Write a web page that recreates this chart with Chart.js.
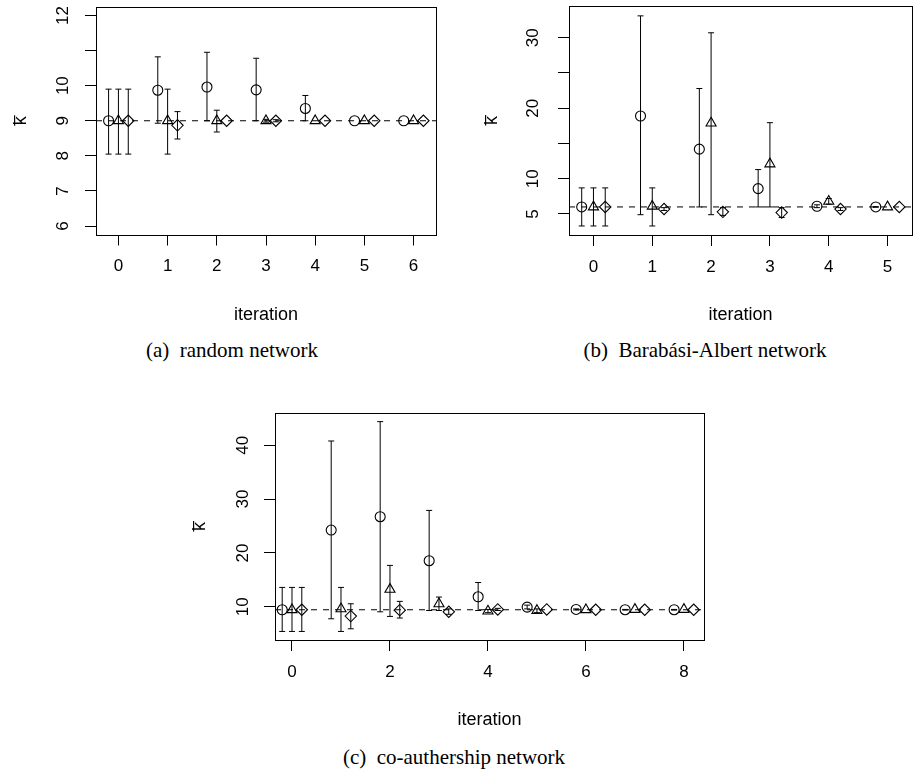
<!DOCTYPE html>
<html>
<head>
<meta charset="utf-8">
<script src="https://cdn.jsdelivr.net/npm/chart.js@4.4.0/dist/chart.umd.min.js"></script>
<style>
  html, body { margin: 0; padding: 0; background: #fff; }
  #page { position: relative; width: 923px; height: 774px; background: #fff; overflow: hidden; }
  canvas { position: absolute; }
  .caption {
    position: absolute;
    font-family: "Liberation Serif", "DejaVu Serif", serif;
    font-size: 21px;
    color: #000;
    white-space: pre;
    transform: translate(-50%, -50%);
  }
</style>
</head>
<body>
<div id="page">
  <canvas id="chart-a" width="460" height="330" style="left:0;top:0"></canvas>
  <canvas id="chart-b" width="463" height="330" style="left:460px;top:0"></canvas>
  <canvas id="chart-c" width="560" height="340" style="left:180px;top:400px"></canvas>
  <div class="caption" style="left:232px;top:350px">(a)  random network</div>
  <div class="caption" style="left:705px;top:350px">(b)  Barabási-Albert network</div>
  <div class="caption" style="left:454px;top:757px">(c)  co-authership network</div>
</div>
<script>
// ---- (a) random network ----
const iterA = [0, 1, 2, 3, 4, 5, 6];
const refA = 9;
const circA   = [9.0, 9.87, 9.96, 9.88, 9.35, 9.0, 9.0];
const circALo = [8.05, 8.93, 9.0, 9.0, 9.0, null, null];
const circAHi = [9.9, 10.82, 10.95, 10.78, 9.72, null, null];
const triA    = [9.0, 9.0, 9.0, 9.0, 9.0, 9.0, 9.0];
const triALo  = [8.05, 8.05, 8.68, 8.96, null, null, null];
const triAHi  = [9.9, 9.9, 9.3, 9.04, null, null, null];
const diaA    = [9.0, 8.87, 9.0, 9.0, 9.0, 9.0, 9.0];
const diaALo  = [8.05, 8.48, null, 8.97, null, null, null];
const diaAHi  = [9.9, 9.26, null, 9.03, null, null, null];
const xTicksA = [0, 1, 2, 3, 4, 5, 6];
const yTicksA = [6, 7, 8, 9, 10, 11, 12];
const yLabelsA = ['6', '7', '8', '9', '10', '', '12'];

// ---- (b) Barabasi-Albert network ----
const iterB = [0, 1, 2, 3, 4, 5];
const refB = 6;
const circB   = [6.0, 18.9, 14.2, 8.6, 6.1, 6.0];
const circBLo = [3.3, 4.9, 6.0, 6.0, 5.9, 5.95];
const circBHi = [8.7, 33.1, 22.8, 11.3, 6.3, 6.05];
const triB    = [6.0, 6.1, 17.9, 12.1, 6.8, 6.0];
const triBLo  = [3.3, 3.3, 4.9, 6.0, 6.4, null];
const triBHi  = [8.7, 8.7, 30.7, 17.95, 7.2, null];
const diaB    = [6.0, 5.7, 5.3, 5.2, 5.7, 6.0];
const diaBLo  = [3.3, 5.5, 4.8, 4.5, 5.5, null];
const diaBHi  = [8.7, 5.9, 5.9, 5.9, 5.9, null];
const xTicksB = [0, 1, 2, 3, 4, 5];
const yTicksB = [5, 10, 15, 20, 25, 30];
const yLabelsB = ['5', '10', '', '20', '', '30'];

// ---- (c) co-authorship network ----
const iterC = [0, 1, 2, 3, 4, 5, 6, 7, 8];
const refC = 9.44;
const circC   = [9.44, 24.25, 26.73, 18.55, 11.85, 9.93, 9.5, 9.45, 9.45];
const circCLo = [5.41, 7.76, 9.06, 9.3, 9.3, 9.6, 9.4, 9.4, 9.4];
const circCHi = [13.59, 40.8, 44.4, 27.9, 14.5, 10.3, 9.6, 9.5, 9.5];
const triC    = [9.44, 9.6, 13.22, 10.55, 9.2, 9.3, 9.44, 9.5, 9.5];
const triCLo  = [5.41, 5.41, 8.2, 9.3, 8.9, 8.9, null, null, null];
const triCHi  = [13.59, 13.59, 17.68, 11.8, 9.5, 9.6, null, null, null];
const diaC    = [9.44, 8.26, 9.37, 9.06, 9.5, 9.5, 9.44, 9.44, 9.44];
const diaCLo  = [5.41, 5.9, 7.9, 8.6, 9.3, null, null, null, null];
const diaCHi  = [13.59, 10.55, 11.0, 9.6, 9.7, null, null, null, null];
const xTicksC = [0, 2, 4, 6, 8];
const yTicksC = [10, 20, 30, 40];
const yLabelsC = ['10', '20', '30', '40'];

const SANS = '"Liberation Sans", Arial, sans-serif';
const DODGE = 0.2;

function markers(iters, vals, shift, style, radius) {
    return {
        type: 'scatter',
        data: iters.map((it, i) => ({ x: it + shift, y: vals[i] })),
        pointStyle: style,
        pointRadius: radius,
        pointBorderColor: '#000',
        pointBackgroundColor: 'rgba(0,0,0,0)',
        pointBorderWidth: 1.1,
        showLine: false
    };
}

// vertical bars with flat caps, one gap (null) between bars
function errorBars(iters, lo, hi, shift) {
    const pts = [];
    iters.forEach((it, i) => {
        if (lo[i] == null) return;
        pts.push({ x: it + shift, y: lo[i] }, { x: it + shift, y: hi[i] }, { x: it + shift, y: null });
    });
    return {
        type: 'line',
        data: pts,
        showLine: true,
        spanGaps: false,
        borderColor: '#000',
        borderWidth: 1,
        pointStyle: 'line',
        pointRadius: 3,
        pointBorderColor: '#000',
        pointBorderWidth: 1,
        fill: false,
        tension: 0
    };
}

const boxPlugin = {
    id: 'box',
    afterDraw(chart) {
        const a = chart.chartArea;
        const ctx = chart.ctx;
        ctx.save();
        ctx.strokeStyle = '#000';
        ctx.lineWidth = 1;
        ctx.strokeRect(Math.round(a.left) + 0.5, Math.round(a.top) + 0.5,
            Math.round(a.right - a.left), Math.round(a.bottom - a.top));
        ctx.restore();
    }
};

function makePanel(id, cfg) {
    const s = cfg.series;
    const datasets = [
        markers(s.iter, s.circ, -DODGE, 'circle', 5),
        markers(s.iter, s.tri, 0, 'triangle', 5.8),
        markers(s.iter, s.dia, DODGE, 'rectRot', 5.7),
        errorBars(s.iter, s.circLo, s.circHi, -DODGE),
        errorBars(s.iter, s.triLo, s.triHi, 0),
        errorBars(s.iter, s.diaLo, s.diaHi, DODGE),
        {
            type: 'line',
            data: [{ x: cfg.xMin, y: s.ref }, { x: cfg.xMax, y: s.ref }],
            borderColor: '#000',
            borderWidth: 1,
            borderDash: [6, 6],
            pointRadius: 0,
            fill: false
        }
    ];

    return new Chart(document.getElementById(id), {
        type: 'scatter',
        data: { datasets },
        plugins: [boxPlugin],
        options: {
            responsive: false,
            animation: false,
            events: [],
            layout: { padding: cfg.pad, autoPadding: false },
            plugins: { legend: { display: false }, tooltip: { enabled: false } },
            scales: {
                x: {
                    type: 'linear',
                    min: cfg.xMin,
                    max: cfg.xMax,
                    afterBuildTicks: sc => { sc.ticks = cfg.xTicks.map(v => ({ value: v })); },
                    afterFit: sc => { sc.height = cfg.xH; sc.paddingLeft = 0; sc.paddingRight = 0; },
                    border: { display: false },
                    grid: { drawOnChartArea: false, drawTicks: true, tickLength: 11, color: '#000', lineWidth: 1 },
                    ticks: { color: '#000', font: { family: SANS, size: 17 }, padding: 11, maxRotation: 0, autoSkip: false },
                    title: { display: true, text: 'iteration', color: '#000', font: { family: SANS, size: 18 }, padding: { top: 0, bottom: cfg.xTitlePad } }
                },
                y: {
                    type: 'linear',
                    min: cfg.yMin,
                    max: cfg.yMax,
                    afterBuildTicks: sc => { sc.ticks = cfg.yTicks.map(v => ({ value: v })); },
                    afterFit: sc => { sc.width = cfg.yW; sc.paddingTop = 0; sc.paddingBottom = 0; },
                    border: { display: false },
                    grid: { drawOnChartArea: false, drawTicks: true, tickLength: 11, color: '#000', lineWidth: 1 },
                    ticks: {
                        color: '#000', font: { family: SANS, size: 17 }, padding: cfg.yTickPad,
                        minRotation: 90, maxRotation: 90, crossAlign: 'center', autoSkip: false,
                        callback: (v, i) => cfg.yLabels[i]
                    },
                    title: { display: true, text: 'k\u0305', color: '#000', font: { family: SANS, size: 18 }, padding: { top: cfg.yTitlePad, bottom: 0 } }
                }
            }
        }
    });
}

makePanel('chart-a', {
    series: { iter: iterA, ref: refA, circ: circA, circLo: circALo, circHi: circAHi, tri: triA, triLo: triALo, triHi: triAHi, dia: diaA, diaLo: diaALo, diaHi: diaAHi },
    xMin: -0.456, xMax: 6.456, yMin: 5.76, yMax: 12.24,
    xTicks: xTicksA, yTicks: yTicksA, yLabels: yLabelsA,
    pad: { left: 0, right: 24, top: 7, bottom: 0 }, yW: 96, xH: 95.5,
    yTickPad: 12, yTitlePad: 10, xTitlePad: 4
});

makePanel('chart-b', {
    series: { iter: iterB, ref: refB, circ: circB, circLo: circBLo, circHi: circBHi, tri: triB, triLo: triBLo, triHi: triBHi, dia: diaB, diaLo: diaBLo, diaHi: diaBHi },
    xMin: -0.416, xMax: 5.416, yMin: 2.02, yMax: 34.5,
    xTicks: xTicksB, yTicks: yTicksB, yLabels: yLabelsB,
    pad: { left: 0, right: 11, top: 6, bottom: 0 }, yW: 109, xH: 95,
    yTickPad: 15, yTitlePad: 21, xTitlePad: 4
});

makePanel('chart-c', {
    series: { iter: iterC, ref: refC, circ: circC, circLo: circCLo, circHi: circCHi, tri: triC, triLo: triCLo, triHi: triCHi, dia: diaC, diaLo: diaCLo, diaHi: diaCHi },
    xMin: -0.347, xMax: 8.41, yMin: 3.82, yMax: 46.0,
    xTicks: xTicksC, yTicks: yTicksC, yLabels: yLabelsC,
    pad: { left: 0, right: 36, top: 13, bottom: 0 }, yW: 95, xH: 100,
    yTickPad: 11, yTitlePad: 9, xTitlePad: 9
});
</script>
</body>
</html>
